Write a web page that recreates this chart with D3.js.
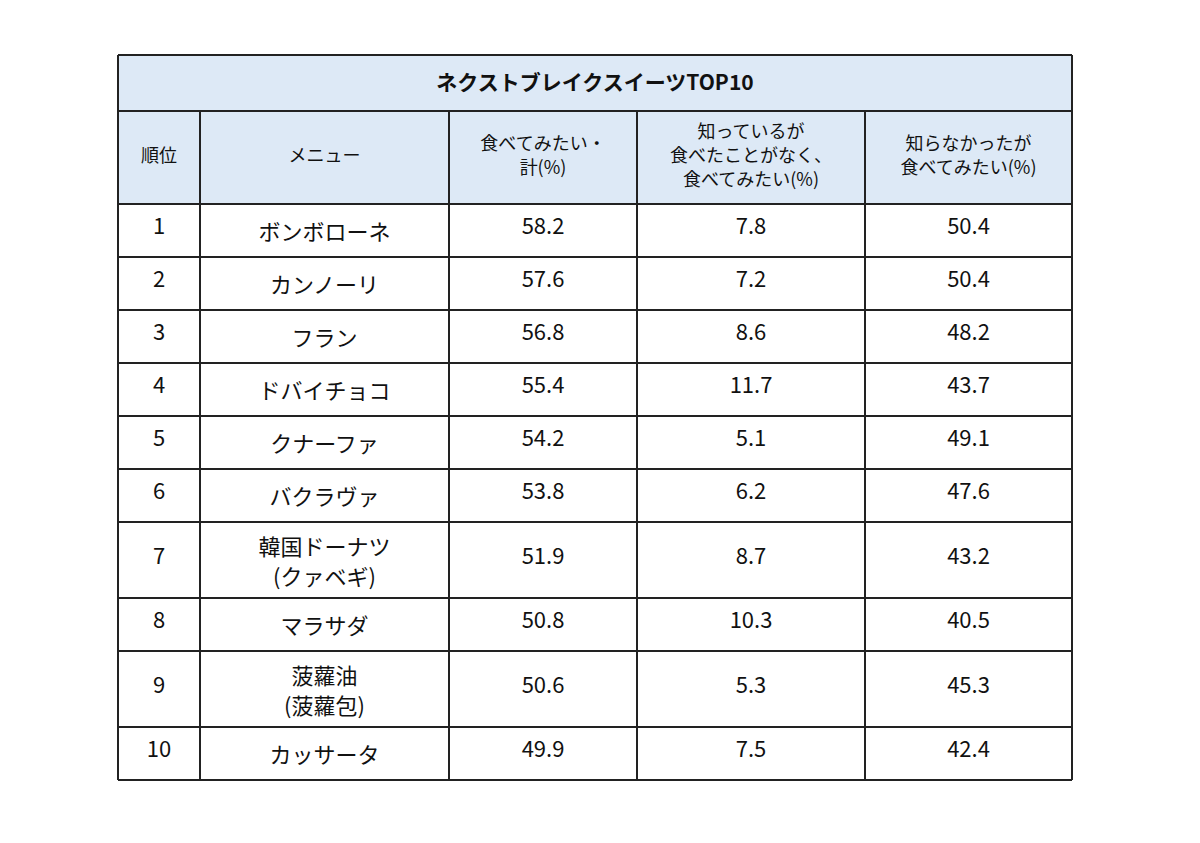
<!DOCTYPE html>
<html><head><meta charset="utf-8">
<script src="https://cdn.jsdelivr.net/npm/d3@7"></script>
<style>body{margin:0;background:#fff}</style>
</head><body><div id="chart"></div>
<script>
const title = "ネクストブレイクスイーツTOP10";
const headers = ["順位", "メニュー", "食べてみたい・\n計(%)", "知っているが\n食べたことがなく、\n食べてみたい(%)", "知らなかったが\n食べてみたい(%)"];
const ranks = [1, 2, 3, 4, 5, 6, 7, 8, 9, 10];
const menus = ["ボンボローネ", "カンノーリ", "フラン", "ドバイチョコ", "クナーファ", "バクラヴァ", "韓国ドーナツ\n(クァベギ)", "マラサダ", "菠蘿油\n(菠蘿包)", "カッサータ"];
const totalVals = [58.2, 57.6, 56.8, 55.4, 54.2, 53.8, 51.9, 50.8, 50.6, 49.9];
const knownVals = [7.8, 7.2, 8.6, 11.7, 5.1, 6.2, 8.7, 10.3, 5.3, 7.5];
const unknownVals = [50.4, 50.4, 48.2, 43.7, 49.1, 47.6, 43.2, 40.5, 45.3, 42.4];

(function () {
const W = 1200, H = 843;
const tLeft = 118, tRight = 1072, tTop = 55;
const titleH = 56, headH = 93, rowH1 = 53, rowH2 = 76;
const colEdges = [118, 200, 449, 637, 865, 1072];
const font = "'Noto Sans CJK JP', 'Noto Sans', sans-serif";

const svg = d3.select("#chart").append("svg").attr("width", W).attr("height", H);

// row positions from line counts
const rows = ranks.map((r, i) => ({
  cells: [String(r), menus[i], totalVals[i].toFixed(1), knownVals[i].toFixed(1), unknownVals[i].toFixed(1)],
  h: menus[i].includes("\n") ? rowH2 : rowH1
}));
let yy = tTop + titleH + headH;
rows.forEach(r => { r.y = yy; yy += r.h; });
const bottom = yy;

// title
svg.append("rect").attr("x", tLeft).attr("y", tTop).attr("width", tRight - tLeft).attr("height", titleH)
  .attr("fill", "#dde9f6");
svg.append("text").attr("x", (tLeft + tRight) / 2).attr("y", tTop + titleH / 2 + 1)
  .attr("text-anchor", "middle").attr("dominant-baseline", "middle")
  .attr("font-family", font).attr("font-weight", "bold").attr("font-size", 21).attr("fill", "#111").text(title);

// header
const hy = tTop + titleH;
svg.append("rect").attr("x", tLeft).attr("y", hy).attr("width", tRight - tLeft).attr("height", headH).attr("fill", "#dde9f6");

function multiline(sel, txt, cx, cy, size, lh) {
  const lines = txt.split("\n");
  const t = sel.append("text").attr("text-anchor", "middle").attr("font-family", font)
    .attr("font-size", size).attr("fill", "#111");
  lines.forEach((l, k) => {
    t.append("tspan").attr("x", cx)
      .attr("y", cy + (k - (lines.length - 1) / 2) * lh)
      .attr("dominant-baseline", "middle").text(l);
  });
}
headers.forEach((h, j) => {
  const cx = (colEdges[j] + colEdges[j + 1]) / 2;
  multiline(svg, h, cx, hy + headH / 2, 18, 24);
});

rows.forEach(r => {
  r.cells.forEach((c, j) => {
    const cx = (colEdges[j] + colEdges[j + 1]) / 2;
    if (j === 1) multiline(svg, c, cx, r.y + r.h / 2 + 4, 22, 30);
    else multiline(svg, c, cx, r.y + r.h / 2 - 2, 22, 30);
  });
});

// grid lines
const g = svg.append("g").attr("stroke", "#222").attr("stroke-width", 2);
const hLines = [tTop, hy, hy + headH].concat(rows.map(r => r.y + r.h));
hLines.forEach(y => g.append("line").attr("x1", tLeft).attr("x2", tRight).attr("y1", y).attr("y2", y));
colEdges.forEach((x, j) => g.append("line").attr("x1", x).attr("x2", x)
  .attr("y1", (j === 0 || j === colEdges.length - 1) ? tTop : hy).attr("y2", bottom));
})();
</script>
</body></html>
